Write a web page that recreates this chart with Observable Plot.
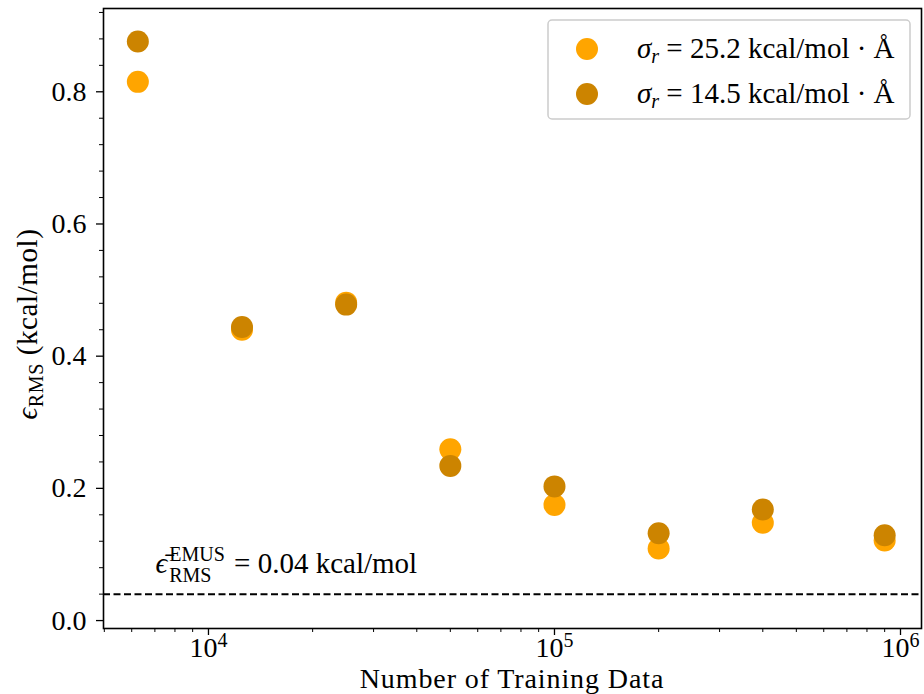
<!DOCTYPE html>
<html>
<head>
<meta charset="utf-8">
<script src="https://cdn.jsdelivr.net/npm/d3@7"></script>
<script src="https://cdn.jsdelivr.net/npm/@observablehq/plot@0.6"></script>
<style>
  html, body { margin: 0; padding: 0; background: #fff; }
  #chart svg { display: block; }
  #chart svg, #chart svg text { font-family: "Liberation Serif", "Times New Roman", serif !important; }
</style>
</head>
<body>
<div id="chart"></div>
<script>
// ---- data ----
const nTrain = [6250, 12500, 25000, 50000, 100000, 200000, 400000, 900000];
const rmsSigma252 = [0.815, 0.440, 0.481, 0.259, 0.175, 0.109, 0.148, 0.121];
const rmsSigma145 = [0.876, 0.444, 0.478, 0.234, 0.203, 0.132, 0.168, 0.129];
const sigmaLabels = ["25.2", "14.5"];
const seriesColors = ["#FFA500", "#CC8400"];
const emusRms = 0.04;
const yMajorTicks = [0, 0.2, 0.4, 0.6, 0.8];
const yMinorTicks = [0.04, 0.08, 0.12, 0.16, 0.24, 0.28, 0.32, 0.36, 0.44, 0.48, 0.52, 0.56, 0.64, 0.68, 0.72, 0.76, 0.84, 0.88, 0.92];
const xMajorTicks = [1e4, 1e5, 1e6];
const xMinorTicks = [5000, 6000, 7000, 8000, 9000,
  20000, 30000, 40000, 50000, 60000, 70000, 80000, 90000,
  200000, 300000, 400000, 500000, 600000, 700000, 800000, 900000];

const rows = [];
nTrain.forEach((n, i) => rows.push({n, rms: rmsSigma252[i], s: 0}));
nTrain.forEach((n, i) => rows.push({n, rms: rmsSigma145[i], s: 1}));

const W = 924, H = 694;
const mL = 103, mR = 3, mT = 8, mB = 66;

const plot = Plot.plot({
  width: W,
  height: H,
  marginLeft: mL,
  marginRight: mR,
  marginTop: mT,
  marginBottom: mB,
  style: {fontSize: "28px", background: "#fff", color: "#000"},
  x: {type: "log", domain: [4973, 1.15e6], label: null},
  y: {domain: [-0.012, 0.926], label: null},
  marks: [
    Plot.ruleY([emusRms], {stroke: "#000", strokeWidth: 2, strokeDasharray: "7,3.5"}),
    Plot.dot(rows.filter(d => d.s === 0), {x: "n", y: "rms", r: 11, fill: seriesColors[0], stroke: "none"}),
    Plot.dot(rows.filter(d => d.s === 1), {x: "n", y: "rms", r: 11, fill: seriesColors[1], stroke: "none"}),
    Plot.text([emusRms], {x: 7030, y: d => d, dy: -30, text: d => "EMUS_ANNOT", textAnchor: "start", fontSize: 29, fill: "#000"}),
    Plot.axisY(yMajorTicks, {tickSize: 7, tickPadding: 10, tickFormat: d => d.toFixed(1), fontSize: 28, strokeWidth: 1.3}),
    Plot.axisY(yMinorTicks, {tickSize: 4, tickFormat: () => "", strokeWidth: 1}),
    Plot.axisX(xMajorTicks, {tickSize: 7, tickPadding: 2, tickFormat: d => "10^" + Math.round(Math.log10(d)), fontSize: 28, strokeWidth: 1.3}),
    Plot.axisX(xMinorTicks, {tickSize: 4, tickFormat: () => "", strokeWidth: 1}),
    Plot.frame({stroke: "#000", strokeWidth: 1.6})
  ]
});

document.getElementById("chart").appendChild(plot);

const svgNode = plot.tagName.toLowerCase() === "svg" ? plot : plot.querySelector("svg");
const svg = d3.select(svgNode);

// superscript exponents on x tick labels, annotation text, tick label size
svg.selectAll("text").each(function() {
  const t = this.textContent;
  const sel = d3.select(this);
  const m = /^10\^(\d+)$/.exec(t);
  if (m) {
    sel.style("font-size", "28px");
    sel.text(null);
    sel.append("tspan").text("10");
    sel.append("tspan").attr("dy", "-10").style("font-size", "20px").text(m[1]);
  }
  if (/^\d\.\d$/.test(t)) {
    sel.style("font-size", "28px");
  }
  if (t === "EMUS_ANNOT") {
    sel.text(null);
    sel.append("tspan").attr("font-style", "italic").text("ϵ\u0304");
    const sup = sel.append("tspan").attr("font-size", "20px").attr("dx", "2").attr("dy", "-12").text("EMUS");
    const sub = sel.append("tspan").attr("font-size", "20px").attr("dy", "21").text("RMS");
    const rest = sel.append("tspan").attr("dy", "-9").text(" = 0.04 kcal/mol");
    const wSup = sup.node().getComputedTextLength();
    const wSub = sub.node().getComputedTextLength();
    sub.attr("dx", -wSup);
    rest.attr("dx", Math.max(0, wSup - wSub) + 2);
  }
});

// axis labels
const frameCx = mL + (W - mL - mR) / 2;
const frameCy = mT + (H - mT - mB) / 2;
svg.append("text")
  .attr("x", frameCx).attr("y", 688)
  .attr("text-anchor", "middle")
  .attr("font-size", "28px")
  .attr("letter-spacing", "0.9px")
  .attr("fill", "#000")
  .text("Number of Training Data");

const yl = svg.append("text")
  .attr("transform", `translate(37,${frameCy + 6}) rotate(-90)`)
  .attr("text-anchor", "middle")
  .attr("font-size", "29px")
  .attr("letter-spacing", "0.6px")
  .attr("fill", "#000");
yl.append("tspan").attr("font-style", "italic").text("ϵ");
yl.append("tspan").attr("font-size", "20px").attr("dy", "6").text("RMS");
yl.append("tspan").attr("dy", "-6").text(" (kcal/mol)");

// legend
const leg = svg.append("g");
leg.append("rect")
  .attr("x", 548).attr("y", 20).attr("width", 362).attr("height", 99)
  .attr("rx", 4).attr("fill", "#fff").attr("fill-opacity", 0.8)
  .attr("stroke", "#cccccc").attr("stroke-width", 1.5);
sigmaLabels.forEach((lab, i) => {
  const cy = 49 + i * 45;
  leg.append("circle").attr("cx", 587).attr("cy", cy).attr("r", 11).attr("fill", seriesColors[i]);
  const t = leg.append("text").attr("x", 637).attr("y", cy + 9)
    .attr("text-anchor", "start")
    .attr("font-size", "29px").attr("fill", "#000");
  t.append("tspan").attr("font-style", "italic").text("σ");
  t.append("tspan").attr("font-style", "italic").attr("font-size", "20px").attr("dy", "5").text("r");
  t.append("tspan").attr("dy", "-5").text(` = ${lab} kcal/mol · Å`);
});
</script>
</body>
</html>
